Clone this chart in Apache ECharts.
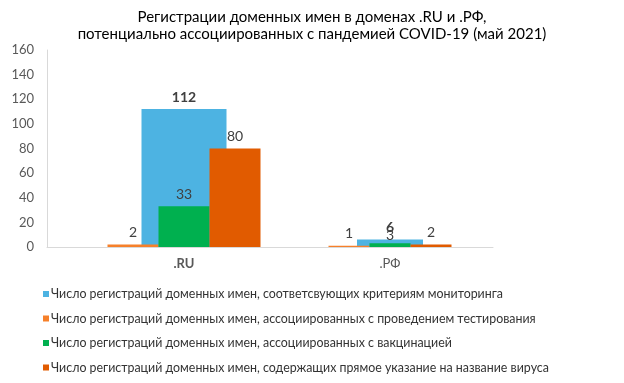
<!DOCTYPE html>
<html><head><meta charset="utf-8">
<script src="https://cdn.jsdelivr.net/npm/echarts@6/dist/echarts.min.js"></script>
<style>html,body{margin:0;padding:0;background:#fff}#c{width:624px;height:383px}</style>
</head><body><div id="c"></div>
<script>
const categories = ['.RU', '.РФ'];
const seriesNames = [
  'Число регистраций доменных имен, соответсвующих критериям мониторинга',
  'Число регистраций доменных имен, ассоциированных с проведением тестирования',
  'Число регистраций доменных имен, ассоциированных с вакцинацией',
  'Число регистраций доменных имен, содержащих прямое указание на название вируса'
];
const monitoring = [112, 6];
const testing = [2, 1];
const vaccination = [33, 3];
const virusName = [80, 2];
const yTicks = [0, 20, 40, 60, 80, 100, 120, 140, 160];

const values = [monitoring, testing, vaccination, virusName];
const colors = ['#4DB3E2', '#F6802A', '#00B04F', '#E15B00'];
const FONT = 'Lato, "Open Sans", sans-serif';

const chart = echarts.init(document.getElementById('c'));
const grids = [
  {left: 47, width: 274, top: 50, height: 197},
  {left: 287, width: 206, top: 50, height: 197}
];
const mainW = [51, 41], backW = [85, 66];
const xAxes = [], yAxes = [], series = [];
categories.forEach((cat, c) => {
  xAxes.push({
    type: 'category', gridIndex: c, data: [cat],
    axisLine: {show: true, lineStyle: {color: '#D9D9D9', width: 1}},
    axisTick: {show: false},
    axisLabel: {color: '#595959', fontSize: 13, fontFamily: FONT, fontWeight: c === 0 ? 'bold' : 'normal', margin: 10}
  });
  xAxes.push({type: 'category', gridIndex: c, data: [cat], show: false});
  yAxes.push({
    type: 'value', gridIndex: c, min: yTicks[0], max: yTicks[yTicks.length - 1], interval: yTicks[1] - yTicks[0],
    show: c === 0,
    axisLine: {show: true, lineStyle: {color: '#D9D9D9'}},
    axisTick: {show: false},
    splitLine: {show: false},
    axisLabel: {color: '#595959', fontSize: 13, fontFamily: FONT, margin: 13}
  });
  values.forEach((vals, m) => {
    series.push({
      type: 'bar', name: seriesNames[m],
      xAxisIndex: m === 0 ? 2 * c + 1 : 2 * c, yAxisIndex: c,
      data: [vals[c]],
      barWidth: m === 0 ? backW[c] : mainW[c],
      barGap: '0%',
      z: m === 0 ? 1 : 2,
      itemStyle: {color: colors[m]},
      label: {show: true, position: 'top', distance: (c === 1 && m === 2) ? 1 : 5,
              color: '#404040', fontSize: 14, fontFamily: FONT,
              fontWeight: m === 0 ? 'bold' : 'normal'}
    });
  });
});

chart.setOption({
  animation: false,
  title: {
    text: 'Регистрации доменных имен в доменах .RU и .РФ,\nпотенциально ассоциированных с пандемией COVID-19 (май 2021)',
    left: 'center', top: 4,
    textStyle: {fontSize: 15, fontWeight: 'normal', color: '#000', fontFamily: FONT, lineHeight: 17}
  },
  legend: {
    data: seriesNames, orient: 'vertical', left: 43, top: 288, padding: 0,
    icon: 'rect', itemWidth: 6, itemHeight: 6, itemGap: 12.5,
    textStyle: {color: '#333333', fontSize: 12.4, fontFamily: FONT, padding: [0, 0, 0, -3]},
    selectedMode: false
  },
  grid: grids,
  xAxis: xAxes,
  yAxis: yAxes,
  series: series
});
</script></body></html>
